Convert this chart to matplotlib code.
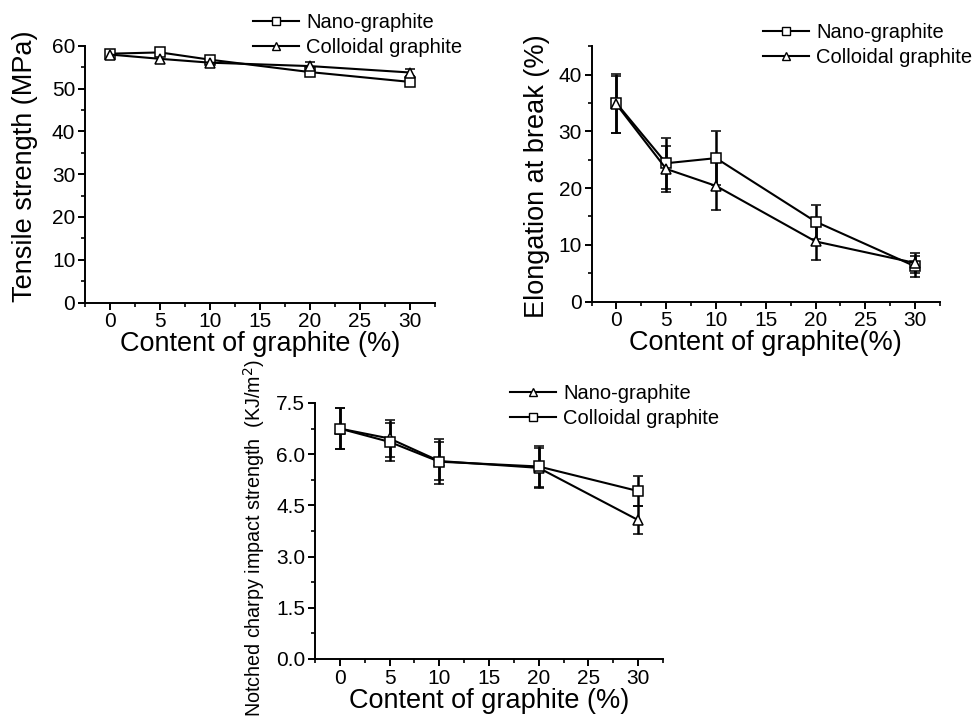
import matplotlib
matplotlib.use("Agg")
import matplotlib.pyplot as plt
from matplotlib.ticker import MultipleLocator, FormatStrFormatter

plt.rcParams['font.family'] = ['Liberation Sans', 'DejaVu Sans']

content = [0, 5, 10, 20, 30]

# Panel (a) tensile strength (MPa)
ts_nano = [58.2, 58.5, 56.8, 53.9, 51.6]
ts_nano_err = [0.8, 0.9, 0.8, 0.9, 0.9]
ts_coll = [58.0, 57.0, 56.1, 55.3, 53.8]
ts_coll_err = [0.8, 1.0, 0.9, 0.9, 0.9]

# Panel (b) elongation at break (%)
el_nano = [35.0, 24.4, 25.3, 14.1, 6.2]
el_nano_err = [5.2, 4.5, 4.8, 3.0, 1.8]
el_coll = [34.8, 23.4, 20.4, 10.6, 6.8]
el_coll_err = [5.0, 4.0, 4.2, 3.2, 1.7]

# Panel (c) notched charpy impact strength (KJ/m2)
ni_nano = [6.75, 6.46, 5.80, 5.60, 4.07]
ni_nano_err = [0.60, 0.55, 0.55, 0.58, 0.42]
ni_coll = [6.75, 6.36, 5.78, 5.64, 4.92]
ni_coll_err = [0.60, 0.56, 0.66, 0.60, 0.45]

W, H = 975, 716
fig = plt.figure(figsize=(W / 100, H / 100), dpi=100)

def ax_at(l, r, b, t):
    return fig.add_axes([l / W, 1 - b / H, (r - l) / W, (b - t) / H])

def style(ax, ymax, ymaj, ymin, tick_fs):
    for s in ['top', 'right']:
        ax.spines[s].set_visible(False)
    for s in ['left', 'bottom']:
        ax.spines[s].set_linewidth(1.4)
    ax.set_xlim(-2.5, 32.5)
    ax.set_ylim(0, ymax)
    ax.xaxis.set_major_locator(MultipleLocator(5))
    ax.xaxis.set_minor_locator(MultipleLocator(2.5))
    ax.yaxis.set_major_locator(MultipleLocator(ymaj))
    ax.yaxis.set_minor_locator(MultipleLocator(ymin))
    ax.tick_params(which='major', direction='out', length=5, width=1.4,
                   labelsize=tick_fs, pad=2)
    ax.tick_params(which='minor', direction='out', length=3, width=1.2)

def series(ax, y, err, marker):
    ax.errorbar(content, y, yerr=err, color='black', lw=1.5, marker=marker,
                ms=6.5, mfc='white', mec='black', mew=1.1, capsize=3.5,
                capthick=2.0, elinewidth=1.8, zorder=3)
    h, = ax.plot([], [], color='black', lw=1.5, marker=marker, ms=6,
                 mfc='white', mec='black', mew=1.0)
    return h

def legend(ax, handles, labels, x, y):
    ax.legend(handles, labels, loc='upper left',
              bbox_to_anchor=(x / W, 1 - y / H),
              bbox_transform=fig.transFigure, frameon=False,
              fontsize=14.5, handlelength=2.3, handletextpad=0.35,
              labelspacing=0.3, borderpad=0, borderaxespad=0)

# Panel (a)
ax1 = ax_at(85, 435, 302.5, 46)
style(ax1, 60, 10, 5, 15)
h1 = series(ax1, ts_nano, ts_nano_err, 's')
h2 = series(ax1, ts_coll, ts_coll_err, '^')
ax1.set_xlabel('Content of graphite (%)', fontsize=19.5, labelpad=0)
ax1.set_ylabel('Tensile strength (MPa)', fontsize=19.5)
ax1.yaxis.set_label_coords(-0.134, 0.53)
legend(ax1, [h1, h2], ['Nano-graphite', 'Colloidal graphite'], 253, 13)

# Panel (b)
ax2 = ax_at(591.5, 940, 301.5, 46.5)
style(ax2, 45, 10, 5, 15)
ax2.set_yticks([0, 10, 20, 30, 40])
h1 = series(ax2, el_nano, el_nano_err, 's')
h2 = series(ax2, el_coll, el_coll_err, '^')
ax2.set_xlabel('Content of graphite(%)', fontsize=19.5, labelpad=0)
ax2.set_ylabel('Elongation at break (%)', fontsize=19.5)
ax2.yaxis.set_label_coords(-0.12, 0.49)
legend(ax2, [h1, h2], ['Nano-graphite', 'Colloidal graphite'], 763, 23)

# Panel (c)
ax3 = ax_at(315, 663, 659, 403)
style(ax3, 7.5, 1.5, 0.75, 15)
ax3.yaxis.set_major_formatter(FormatStrFormatter('%.1f'))
h1 = series(ax3, ni_nano, ni_nano_err, '^')
h2 = series(ax3, ni_coll, ni_coll_err, 's')
ax3.set_xlabel('Content of graphite (%)', fontsize=19.5, labelpad=0)
ax3.set_ylabel('Notched charpy impact strength  (KJ/m$^2$)', fontsize=14.2)
ax3.yaxis.set_label_coords(-0.138, 0.475)
legend(ax3, [h1, h2], ['Nano-graphite', 'Colloidal graphite'], 510, 384)

fig.savefig('out.png', dpi=100)
